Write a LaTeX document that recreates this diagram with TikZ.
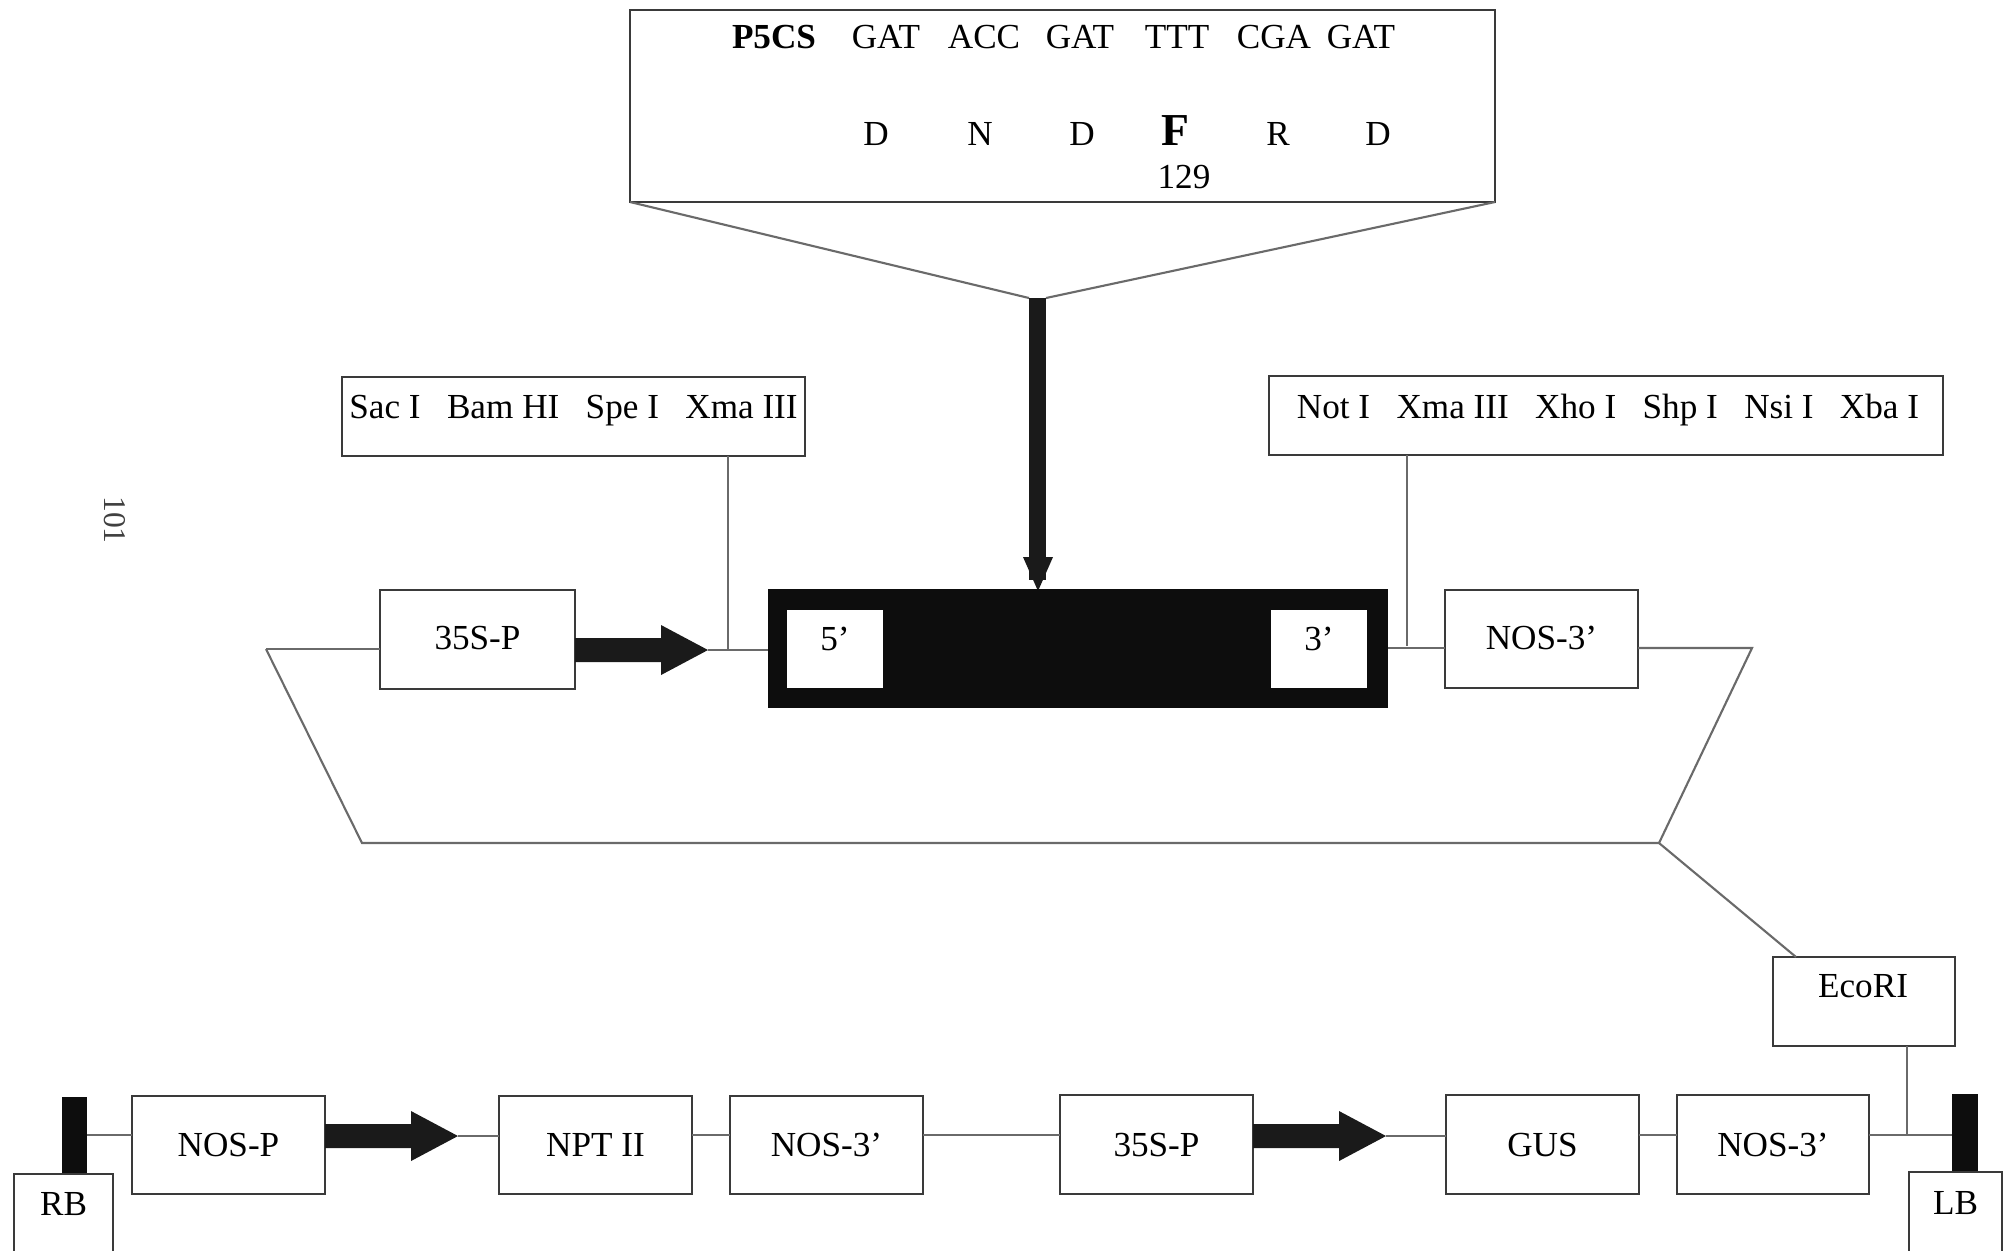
\documentclass[tikz,border=0pt]{standalone}
\usepackage{fontspec}
\setmainfont{Liberation Serif}
\usetikzlibrary{calc}
\newcommand\rmfs{\fontsize{10}{12}\selectfont}
\newcommand\gsp{\hspace{0.75em}}
\definecolor{boxc}{HTML}{3A3A3A}
\definecolor{linec}{HTML}{6A6A6A}
\definecolor{arrowc}{HTML}{1A1A1A}
\definecolor{genec}{HTML}{0D0D0D}
\newcommand\bx[6]{\node[box, minimum width={(#4-#2)*0.01cm}, minimum height={(#5-#3)*0.01cm}] (#1) at ({(#2+#4)/2},{(#3+#5)/2}) {#6};}
\newcommand\fatarrow[3]{%
  \fill[arrowc] (#1,#2-12) -- (#1+86,#2-12) -- (#1+86,#2-25) -- (#1+133,#2) -- (#1+86,#2+25) -- (#1+86,#2+12) -- (#1,#2+12) -- cycle;
  \coordinate (#3) at (#1+133,#2);}
\begin{document}
\begin{tikzpicture}[x=0.01cm,y=-0.01cm,
  every node/.style={font=\rmfs, text=black},
  box/.style={draw=boxc, line width=0.75pt, fill=white, inner sep=0pt, outer sep=0pt},
  thin/.style={draw=linec, line width=0.6pt},
  lbl/.style={anchor=base, inner sep=0pt}]
\useasboundingbox (0,0) rectangle (2004,1250);
\fill[white] (0,0) rectangle (2004,1250);

% page number
\node[rotate=-90, text=black!75, font=\fontsize{9}{10}\selectfont] (pg) at (115,520) {101};

% sequence box
\bx{seq}{630}{10}{1495}{202}{}
\node[lbl, font=\rmfs\bfseries] (p5cs) at (774,48) {P5CS};
\node[lbl] (c1) at (886,48) {GAT};
\node[lbl] (c2) at (984,48) {ACC};
\node[lbl] (c3) at (1080,48) {GAT};
\node[lbl] (c4) at (1177,48) {TTT};
\node[lbl] (c5) at (1274,48) {CGA};
\node[lbl] (c6) at (1361,48) {GAT};
\node[lbl] (a1) at (876,145) {D};
\node[lbl] (a2) at (980,145) {N};
\node[lbl] (a3) at (1082,145) {D};
\node[lbl, font=\fontsize{13}{14}\selectfont\bfseries] (a4) at (1175,145) {F};
\node[lbl] (a5) at (1278,145) {R};
\node[lbl] (a6) at (1378,145) {D};
\node[lbl] (num) at (1184,188) {129};

% funnel and insertion arrow
\coordinate (shL) at (1029,298);
\coordinate (shR) at (1046,298);
\draw[thin] (seq.south west) -- (shL);
\draw[thin] (seq.south east) -- (shR);
\fill[arrowc] (1029,298) rectangle (1046,580);
\fill[arrowc] (1023,557) -- (1053,557) -- (1038,591) -- cycle;

% restriction site boxes
\bx{sac}{342}{377}{805}{456}{}
\node[lbl] (sact) at (573.5,418) {Sac I\gsp Bam HI\gsp Spe I\gsp Xma III};
\bx{notb}{1269}{376}{1943}{455}{}
\node[lbl] (nott) at (1608,418) {Not I\gsp Xma III\gsp Xho I\gsp Shp I\gsp Nsi I\gsp Xba I};

% upper cassette
\coordinate (tl) at (266,649);
\coordinate (bl) at (362,843);
\coordinate (br) at (1659,843);
\coordinate (tr) at (1752,648);
\bx{pa}{380}{590}{575}{689}{}
\node[lbl] (pat) at (477.5,649) {35S-P};
\fatarrow{575}{650}{ta}
\node[fill=genec, inner sep=0pt, outer sep=0pt, minimum width=6.2cm, minimum height=1.19cm] (gene) at (1078,648.5) {};
\node[fill=white, inner sep=0pt, minimum width=0.96cm, minimum height=0.78cm] (g5) at (835,649) {};
\node[lbl] (g5t) at (835,650) {5’};
\node[fill=white, inner sep=0pt, minimum width=0.96cm, minimum height=0.78cm] (g3) at (1319,649) {};
\node[lbl] (g3t) at (1319,650) {3’};
\bx{nosa}{1445}{590}{1638}{688}{}
\node[lbl] (nosat) at (1541.5,649) {NOS-3’};

\draw[thin] (tl) -- (tl -| pa.west);
\draw[thin] (ta) -- (ta -| gene.west);
\draw[thin] (gene.east |- tr) -- (nosa.west |- tr);
\draw[thin] (nosa.east |- tr) -- (tr) -- (br) -- (bl) -- (tl);
\coordinate (sacv) at (728,649);
\draw[thin] (sacv |- sac.south) -- (sacv);
\coordinate (notv) at (1407,646);
\draw[thin] (notv |- notb.south) -- (notv);

% EcoRI
\bx{eco}{1773}{957}{1955}{1046}{}
\node[lbl] (ecot) at (1863,997) {EcoRI};
\draw[thin] (br) -- ([xshift=0.23cm]eco.north west);
\coordinate (ecov) at (1907,1134);
\draw[thin] (ecov |- eco.south) -- (ecov);

% lower T-DNA
\coordinate (bb) at (0,1135);
\node[fill=genec, inner sep=0pt, outer sep=0pt, minimum width=0.25cm, minimum height=0.77cm] (rbbar) at (74.5,1135.5) {};
\bx{rb}{14}{1174}{113}{1253}{}
\node[lbl] (rbt) at (63.5,1215) {RB};
\bx{nosp}{132}{1096}{325}{1194}{NOS-P}
\fatarrow{325}{1136}{tb}
\bx{npt}{499}{1096}{692}{1194}{NPT II}
\bx{nosb}{730}{1096}{923}{1194}{NOS-3’}
\bx{pb}{1060}{1095}{1253}{1194}{35S-P}
\fatarrow{1253}{1136}{tc}
\bx{gus}{1446}{1095}{1639}{1194}{GUS}
\bx{nosc}{1677}{1095}{1869}{1194}{NOS-3’}
\node[fill=genec, inner sep=0pt, outer sep=0pt, minimum width=0.26cm, minimum height=0.78cm] (lbbar) at (1965,1133) {};
\bx{lb}{1909}{1172}{2002}{1253}{}
\node[lbl] (lbt) at (1955.5,1214) {LB};

\draw[thin] (rbbar.east |- bb) -- (nosp.west |- bb);
\draw[thin] (tb) -- (npt.west |- tb);
\draw[thin] (npt.east |- bb) -- (nosb.west |- bb);
\draw[thin] (nosb.east |- bb) -- (pb.west |- bb);
\draw[thin] (tc) -- (gus.west |- tc);
\draw[thin] (gus.east |- bb) -- (nosc.west |- bb);
\draw[thin] (nosc.east |- bb) -- (lbbar.west |- bb);
\end{tikzpicture}
\end{document}
